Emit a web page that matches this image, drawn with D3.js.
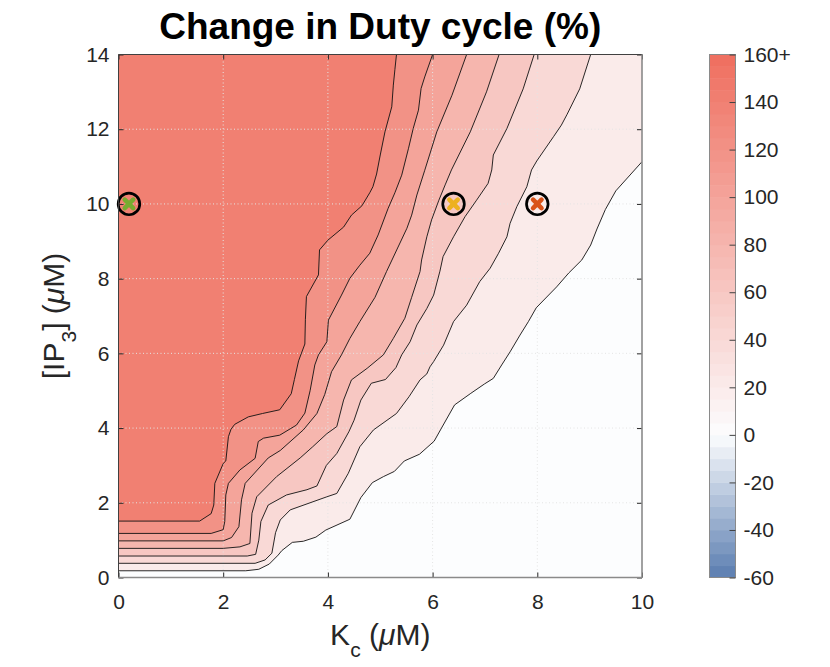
<!DOCTYPE html>
<html><head><meta charset="utf-8">
<script src="https://cdn.jsdelivr.net/npm/d3@7"></script>
<style>
body{margin:0;background:#fff}
svg{display:block}
text{font-family:"Liberation Sans",Arial,Helvetica,sans-serif;fill:#262626}
</style>
</head><body>
<svg id="chart" width="830" height="667"></svg>
<script>
// ---------------- data ----------------
const xTicks = [0, 2, 4, 6, 8, 10];
const yTicks = [0, 2, 4, 6, 8, 10, 12, 14];
const cbTicks = [160, 140, 120, 100, 80, 60, 40, 20, 0, -20, -40, -60];
const cbTickLabels = ["160+", "140", "120", "100", "80", "60", "40", "20", "0", "-20", "-40", "-60"];
// value of each filled region, from top-left (highest) to bottom-right (lowest)
const regionLevels = [140, 120, 100, 80, 60, 40, 20, 0];
// contour lines (K_c, IP3) separating region i from region i+1
const contour1 = [[0,1.51],[1.55,1.51],[1.77,1.71],[1.82,1.94],[1.84,2.52],[2.0,3.05],[2.05,3.12],[2.1,3.77],[2.15,3.97],[2.22,4.1],[2.48,4.3],[2.75,4.39],[3.08,4.49],[3.3,4.92],[3.36,5.3],[3.44,5.8],[3.56,6.25],[3.57,6.9],[3.59,7.52],[3.82,8.1],[3.84,8.77],[4.0,9.03],[4.3,9.38],[4.45,9.7],[4.65,9.95],[4.8,10.3],[4.86,10.46],[4.93,10.8],[5.0,11.31],[5.09,11.93],[5.22,12.6],[5.25,13.18],[5.28,13.6],[5.31,14]];
const contour2 = [[0,1.18],[1.77,1.18],[2.0,1.28],[2.03,1.5],[2.05,2.21],[2.1,2.52],[2.32,2.88],[2.61,3.19],[2.67,3.64],[2.77,3.73],[3.08,3.81],[3.4,4.08],[3.56,4.4],[3.66,5.0],[3.75,5.69],[3.82,5.96],[3.98,6.31],[4.01,6.89],[4.26,7.56],[4.42,8.01],[4.61,8.36],[4.8,8.68],[4.96,9.17],[5.15,9.88],[5.28,10.3],[5.41,10.77],[5.54,11.49],[5.63,12.02],[5.73,12.51],[5.78,13.09],[5.85,13.4],[6.0,14]];
const contour3 = [[0,0.98],[2.0,0.98],[2.16,1.07],[2.3,1.36],[2.35,2.08],[2.42,2.52],[2.86,3.2],[3.09,3.4],[3.53,3.95],[3.79,4.39],[3.94,4.9],[4.07,5.51],[4.26,5.96],[4.42,6.4],[4.61,6.85],[4.9,7.5],[5.12,8.19],[5.51,9.35],[5.6,9.7],[5.7,10.24],[5.85,10.9],[6.08,11.93],[6.37,12.91],[6.65,14]];
const contour4 = [[0,0.78],[2.0,0.78],[2.32,0.82],[2.51,0.91],[2.55,1.72],[2.64,2.16],[3.02,2.7],[3.47,3.2],[3.71,3.5],[3.98,3.85],[4.17,4.04],[4.3,4.75],[4.45,5.29],[4.75,5.6],[5.06,5.96],[5.25,6.4],[5.47,6.94],[5.6,7.5],[5.76,8.19],[5.79,8.5],[5.89,9.12],[5.98,9.57],[6.12,10.1],[6.24,10.51],[6.36,10.91],[6.72,11.93],[7.03,13.0],[7.27,14]];
const contour5 = [[0,0.575],[2.46,0.575],[2.62,0.62],[2.68,1.0],[2.72,1.5],[2.86,1.94],[3.21,2.21],[3.6,2.35],[3.79,2.45],[3.97,3.0],[4.17,3.32],[4.4,3.9],[4.5,4.21],[4.63,4.75],[4.83,5.2],[5.1,5.3],[5.3,5.62],[5.41,5.96],[5.57,6.31],[5.7,6.76],[5.89,7.2],[6.02,7.56],[6.14,8.2],[6.2,8.59],[6.4,9.12],[6.62,9.66],[6.84,10.1],[7.06,10.55],[7.13,10.91],[7.16,11.31],[7.42,12.02],[7.73,13.08],[7.94,14]];
const contour6 = [[0,0.38],[2.61,0.38],[2.8,0.47],[2.93,0.65],[3.0,1.2],[3.09,1.54],[3.28,1.81],[3.98,2.16],[4.17,2.25],[4.39,2.79],[4.61,3.5],[4.87,3.95],[5.31,4.39],[5.55,4.84],[5.76,5.29],[5.89,5.45],[5.95,5.64],[6.02,5.78],[6.21,6.22],[6.4,6.85],[6.65,7.29],[6.9,7.92],[7.1,8.28],[7.26,8.68],[7.42,9.12],[7.48,9.48],[7.61,9.93],[7.8,10.46],[7.89,10.91],[7.99,11.15],[8.31,11.8],[8.46,12.11],[8.57,12.4],[8.81,13.08],[9.02,14]];
const contour7 = [[0,0.18],[2.43,0.18],[2.68,0.22],[2.88,0.36],[3.05,0.6],[3.12,0.72],[3.32,0.94],[3.53,0.97],[3.77,1.08],[3.96,1.27],[4.42,1.56],[4.63,2.14],[4.85,2.54],[5.06,2.7],[5.27,2.84],[5.46,3.12],[5.75,3.3],[6.03,3.65],[6.15,3.95],[6.42,4.62],[6.73,4.93],[6.99,5.18],[7.16,5.33],[7.32,5.69],[7.48,6.04],[7.67,6.49],[7.83,6.85],[7.98,7.22],[8.37,7.78],[8.6,8.15],[8.85,8.5],[9.02,8.9],[9.14,9.33],[9.3,9.85],[9.5,10.35],[10,11.13]];
const contours = [contour1, contour2, contour3, contour4, contour5, contour6, contour7];
// marked points
const markerKc = [0.2, 6.4, 8];
const markerIP3 = [10, 10, 10];

// ---------------- styles ----------------
const markerColors = ["#77AC30", "#EDB120", "#D95319"];
const FONT = '"Liberation Sans",Arial,Helvetica,sans-serif';

// ---------------- layout ----------------
const L = 118.5, R = 642, T = 54.5, B = 577.5;
const CBL = 709.5, CBR = 735.5;
const svg = d3.select("#chart");
const x = d3.scaleLinear().domain([0, 10]).range([L, R]);
const y = d3.scaleLinear().domain([0, 14]).range([B, T]);
const cbY = d3.scaleLinear().domain([-60, 160]).range([B, T]);

const posI = d3.interpolateRgb("#fcfdfe", "#ef6e5e");
const negI = d3.interpolateRgb("#fcfdfe", "#5a7db0");
const cmap = v => v >= 0 ? posI(Math.min(v, 160) / 160) : negI(Math.min(-v, 60) / 60);

// clip
svg.append("defs").append("clipPath").attr("id", "plotclip")
  .append("rect").attr("x", L).attr("y", T).attr("width", R - L).attr("height", B - T);

const plot = svg.append("g").attr("clip-path", "url(#plotclip)");

// background = lowest region
plot.append("rect").attr("x", L).attr("y", T).attr("width", R - L).attr("height", B - T)
  .attr("fill", cmap(regionLevels[regionLevels.length - 1]));

// closing polygon of each contour towards the top-left corner
function closedPoly(c) {
  const pts = c.slice();
  const last = pts[pts.length - 1];
  if (last[1] < 14) pts.push([10, 14]);
  pts.push([0, 14]);
  return pts;
}
const lineGen = d3.line().x(d => x(d[0])).y(d => y(d[1]));
for (let k = contours.length - 1; k >= 0; k--) {
  plot.append("path").attr("d", lineGen(closedPoly(contours[k])) + "Z")
    .attr("fill", cmap(regionLevels[k])).attr("stroke", "none");
}

// grid
const gridG = plot.append("g").attr("stroke", "#e4e4e4").attr("stroke-width", 1)
  .attr("stroke-dasharray", "1,2.5").attr("fill", "none");
xTicks.filter(v => v > 0 && v < 10).forEach(v => {
  gridG.append("line").attr("x1", x(v)).attr("x2", x(v)).attr("y1", T).attr("y2", B);
});
yTicks.filter(v => v > 0 && v < 14).forEach(v => {
  gridG.append("line").attr("x1", L).attr("x2", R).attr("y1", y(v)).attr("y2", y(v));
});

// contour lines
contours.forEach(c => {
  plot.append("path").attr("d", lineGen(c)).attr("fill", "none")
    .attr("stroke", "#111").attr("stroke-width", 0.9).attr("stroke-linejoin", "round");
});

// markers
const mk = svg.append("g");
markerKc.forEach((kc, i) => {
  const g = mk.append("g").attr("transform", `translate(${x(kc)},${y(markerIP3[i])})`);
  g.append("path").attr("d", "M-4.2,-4.2L4.2,4.2M-4.2,4.2L4.2,-4.2")
    .attr("stroke", markerColors[i]).attr("stroke-width", 4.6).attr("stroke-linecap", "round");
  g.append("circle").attr("r", 10.8).attr("fill", "none").attr("stroke", "#000").attr("stroke-width", 2.7);
});

// axes
function styleAxis(g) {
  g.select(".domain").remove();
  g.selectAll(".tick line").attr("stroke", "#262626").attr("stroke-width", 1);
  g.selectAll(".tick text").attr("font-family", FONT).attr("font-size", 21).attr("fill", "#262626");
}
svg.append("g").attr("transform", `translate(0,${B})`)
  .call(d3.axisBottom(x).tickValues(xTicks).tickSizeInner(-5).tickSizeOuter(0).tickPadding(17).tickFormat(d3.format("d")))
  .call(styleAxis);
svg.append("g").attr("transform", `translate(0,${T})`)
  .call(d3.axisTop(x).tickValues(xTicks).tickSizeInner(-5).tickSizeOuter(0).tickFormat(""))
  .call(styleAxis);
svg.append("g").attr("transform", `translate(${L},0)`)
  .call(d3.axisLeft(y).tickValues(yTicks).tickSizeInner(-5).tickSizeOuter(0).tickPadding(9).tickFormat(d3.format("d")))
  .call(styleAxis);
svg.append("g").attr("transform", `translate(${R},0)`)
  .call(d3.axisRight(y).tickValues(yTicks).tickSizeInner(-5).tickSizeOuter(0).tickFormat(""))
  .call(styleAxis);

// box
svg.append("line").attr("x1", L).attr("x2", R).attr("y1", T).attr("y2", T).attr("stroke", "#404040").attr("stroke-width", 1);
svg.append("line").attr("x1", L).attr("x2", L).attr("y1", T).attr("y2", B).attr("stroke", "#404040").attr("stroke-width", 1);
svg.append("line").attr("x1", L).attr("x2", R).attr("y1", B).attr("y2", B).attr("stroke", "#8a8a8a").attr("stroke-width", 1.6);
svg.append("line").attr("x1", R).attr("x2", R).attr("y1", T).attr("y2", B).attr("stroke", "#8a8a8a").attr("stroke-width", 1.6);

// title
svg.append("text").attr("x", (L + R) / 2).attr("y", 39).attr("text-anchor", "middle")
  .attr("font-size", 37).attr("font-weight", "bold").style("fill", "#000")
  .text("Change in Duty cycle (%)");

// x label
const xl = svg.append("text").attr("x", (L + R) / 2).attr("y", 645).attr("text-anchor", "middle")
  .attr("font-size", 30);
xl.append("tspan").text("K");
xl.append("tspan").attr("font-size", 21).attr("dy", 12).text("c");
xl.append("tspan").attr("dy", -12).text(" (");
xl.append("tspan").attr("font-style", "italic").text("μ");
xl.append("tspan").text("M)");

// y label
const yl = svg.append("text").attr("transform", `translate(64,${(T + B) / 2}) rotate(-90)`)
  .attr("text-anchor", "middle").attr("font-size", 30);
yl.append("tspan").text("[IP");
yl.append("tspan").attr("font-size", 21).attr("dy", 12).text("3");
yl.append("tspan").attr("dy", -12).text("] (");
yl.append("tspan").attr("font-style", "italic").text("μ");
yl.append("tspan").text("M)");

// colorbar
const cb = svg.append("g");
const step = 5;
const bands = d3.range(-60, 160, step);
cb.selectAll("rect.band").data(bands).enter().append("rect")
  .attr("x", CBL).attr("width", CBR - CBL)
  .attr("y", d => cbY(d + step)).attr("height", d => cbY(d) - cbY(d + step) + 0.5)
  .attr("fill", d => cmap(d + step / 2));
cb.append("rect").attr("x", CBL).attr("y", T).attr("width", CBR - CBL).attr("height", B - T)
  .attr("fill", "none").attr("stroke", "#8a8a8a").attr("stroke-width", 1);
const cbAxis = cb.append("g").attr("transform", `translate(${CBR},0)`)
  .call(d3.axisRight(cbY).tickValues(cbTicks).tickSizeInner(-6).tickSizeOuter(0).tickPadding(8)
    .tickFormat((d, i) => cbTickLabels[i]));
cbAxis.select(".domain").remove();
cbAxis.selectAll(".tick line").attr("stroke", "#404040");
cbAxis.selectAll(".tick text").attr("font-family", FONT).attr("font-size", 21).attr("fill", "#262626");
</script>
</body></html>
